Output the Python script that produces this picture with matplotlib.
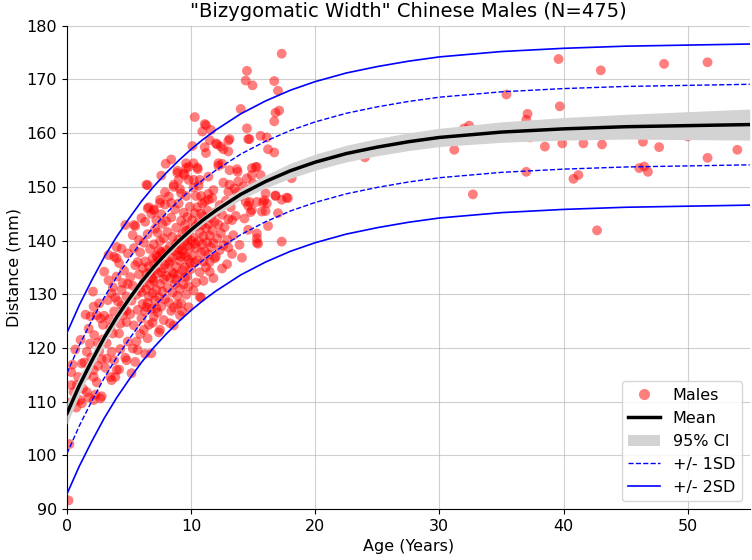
import numpy as np
import matplotlib
matplotlib.use("Agg")
import matplotlib.pyplot as plt
from matplotlib.patches import Patch
from matplotlib.lines import Line2D

# fitted curve (age in years -> mm)
curve_age = [0, 1, 2, 3, 4, 5, 6, 7, 8, 9, 10, 11, 12, 14, 16, 18, 20, 22.5, 25, 27.5, 30, 35, 40, 45, 50, 55]
curve_mean = [107.8, 113.0, 117.6, 121.9, 125.7, 129.1, 132.3, 135.1, 137.6, 139.9, 142.0, 143.9, 145.6,
              148.6, 151.0, 153.0, 154.6, 156.2, 157.4, 158.4, 159.2, 160.2, 160.8, 161.2, 161.4, 161.6]
ci_half = [2.0, 1.7, 1.4, 1.2, 1.0, 0.9, 0.8, 0.75, 0.7, 0.7, 0.7, 0.75, 0.8,
           1.0, 1.2, 1.4, 1.5, 1.55, 1.6, 1.65, 1.7, 1.9, 2.1, 2.3, 2.6, 2.9]
sd = 7.5

# scatter points (age, width mm), grouped by age
infants = [(0.13, 91.6), (0.2, 102.1), (0.35, 115.5), (0.38, 113.1), (0.54, 111.8), (0.65, 110.1), (0.67, 119.7),
           (0.8, 113.1), (1.07, 110.3), (1.2, 117.1), (1.4, 117.3), (1.6, 119.3), (1.6, 111.8), (1.75, 123.6),
           (1.5, 126.2), (1.9, 125.9), (0.9, 114.6), (1.3, 112.4), (0.25, 109.8), (1.1, 121.5), (1.85, 120.8),
           (0.45, 116.9), (1.55, 114.9), (1.95, 118.2), (0.75, 108.9), (1.2, 109.7), (1.75, 110.8)]
age_2_5 = [(2.1, 130.5), (2.15, 127.7), (2.4, 126.1), (2.15, 115.9), (2.15, 114.6), (2.15, 110.3), (2.7, 110.6),
           (2.8, 111.0), (2.3, 111.3), (2.4, 113.6), (2.5, 121.0), (2.6, 119.4), (2.9, 124.3), (2.2, 122.4),
           (2.7, 125.5), (3.0, 126.0), (3.2, 120.9), (3.6, 119.3), (4.0, 115.9), (3.6, 114.0), (3.2, 118.0),
           (2.8, 117.9), (3.35, 132.6), (3.35, 137.3), (3.3, 128.9), (3.5, 123.8), (3.7, 122.7), (3.8, 126.8),
           (3.9, 129.4), (4.0, 133.3), (4.0, 136.7), (4.2, 122.7), (4.4, 130.8), (4.4, 138.5), (4.2, 135.8),
           (3.6, 130.2), (4.7, 118.2), (4.7, 142.9), (4.6, 127.3), (4.8, 124.8), (4.9, 131.9), (4.5, 126.1),
           (4.3, 119.8), (3.1, 116.3), (2.9, 121.6), (3.4, 125.4), (4.1, 128.7), (4.6, 134.4), (4.9, 121.2),
           (3.8, 117.7), (2.6, 128.3), (3.0, 134.2), (4.0, 138.8), (3.8, 137.0), (4.3, 124.5), (4.8, 129.6),
           (4.5, 132.1), (3.5, 114.6), (3.9, 114.6), (4.2, 116.0), (4.9, 137.6), (4.8, 126.9), (2.5, 116.7),
           (3.7, 131.3), (4.4, 127.9), (4.8, 117.7)]
age_5_8 = [(5.2, 115.3), (5.5, 117.4), (5.7, 119.6), (6.5, 121.8), (6.8, 119.0), (7.5, 123.4), (6.3, 118.9),
           (5.3, 141.0), (5.4, 142.9), (5.5, 142.7), (6.5, 150.3), (6.4, 150.4), (6.5, 146.0), (6.6, 146.2),
           (7.0, 145.6), (7.0, 145.8), (6.8, 145.0), (6.3, 143.5), (7.2, 143.8), (7.5, 147.6), (7.5, 147.0),
           (7.9, 149.0), (7.95, 154.3), (7.6, 152.1),
           (5.1, 126.3), (5.2, 128.8), (5.3, 131.6), (5.4, 124.2), (5.5, 135.4), (5.6, 129.9), (5.7, 127.1),
           (5.8, 133.7), (5.9, 122.6), (5.9, 137.8), (6.0, 130.4), (6.0, 125.5), (6.1, 134.9), (6.1, 128.2),
           (6.2, 132.2), (6.2, 139.6), (6.3, 126.8), (6.3, 136.1), (6.4, 130.9), (6.4, 133.8), (6.5, 128.4),
           (6.5, 141.2), (6.6, 124.3), (6.6, 135.2), (6.7, 131.7), (6.7, 138.4), (6.8, 127.3), (6.8, 133.1),
           (6.9, 130.2), (6.9, 136.7), (7.0, 125.8), (7.0, 139.3), (7.0, 132.4), (7.1, 128.9), (7.1, 134.6),
           (7.2, 137.2), (7.2, 130.8), (7.3, 126.6), (7.3, 141.5), (7.3, 133.9), (7.4, 129.4), (7.4, 136.3),
           (7.5, 131.9), (7.5, 139.9), (7.6, 127.7), (7.6, 134.1), (7.7, 130.5), (7.7, 143.1), (7.7, 137.6),
           (7.8, 125.2), (7.8, 132.8), (7.8, 140.4), (7.9, 135.5), (7.9, 129.1), (8.0, 138.2), (8.0, 133.4),
           (5.4, 138.6), (5.6, 121.2), (5.8, 140.1), (6.0, 144.2), (6.2, 123.4), (6.9, 124.7), (7.1, 142.2),
           (7.4, 122.9), (5.1, 133.2), (5.3, 119.9), (5.7, 136.0), (6.6, 129.6), (7.2, 127.4), (7.6, 144.9),
           (5.9, 131.1), (6.4, 127.6), (7.9, 146.7),
           (6.7, 134.0), (7.0, 135.6), (7.3, 136.9), (7.6, 137.9), (7.8, 134.8), (6.9, 132.9), (7.4, 138.2)]
age_8_10 = [(8.3, 124.6), (9.1, 126.1), (8.9, 128.1), (8.4, 155.1), (8.9, 153.0), (8.9, 152.6), (9.0, 151.3),
            (8.6, 150.4), (8.6, 150.0), (9.2, 148.8), (9.6, 148.3), (9.6, 154.4), (9.5, 152.2), (9.6, 153.5),
            (9.8, 151.3), (9.8, 153.7), (9.4, 152.5),
            (8.1, 131.2), (8.1, 141.6), (8.2, 128.5), (8.2, 135.7), (8.3, 138.9), (8.3, 133.0), (8.4, 126.9),
            (8.4, 144.3), (8.5, 130.3), (8.5, 136.8), (8.5, 140.7), (8.6, 133.8), (8.6, 127.5), (8.7, 138.0),
            (8.7, 145.8), (8.7, 131.9), (8.8, 135.1), (8.8, 142.4), (8.9, 129.7), (8.9, 137.3), (9.0, 133.6),
            (9.0, 140.2), (9.0, 146.9), (9.1, 131.0), (9.1, 136.2), (9.2, 139.1), (9.2, 143.7), (9.2, 128.3),
            (9.3, 134.5), (9.3, 141.3), (9.4, 137.6), (9.4, 131.8), (9.4, 145.2), (9.5, 135.0), (9.5, 139.8),
            (9.5, 142.9), (9.6, 129.9), (9.6, 137.1), (9.7, 133.3), (9.7, 140.6), (9.7, 144.4), (9.8, 136.4),
            (9.8, 131.5), (9.9, 138.8), (9.9, 142.1), (9.9, 146.3), (10.0, 134.7), (10.0, 140.0), (8.2, 148.2),
            (8.6, 124.2), (9.1, 149.6), (9.3, 126.8), (8.4, 147.0), (9.8, 127.6), (8.8, 132.7), (9.5, 133.2),
            (8.0, 143.6), (9.0, 138.4), (9.6, 141.8), (8.5, 134.1), (9.2, 137.0), (9.9, 135.8),
            (8.3, 136.1), (8.8, 139.4), (9.3, 138.1), (9.7, 139.0)]
age_10_13 = [(10.3, 163.0), (11.1, 161.7), (11.2, 161.5), (11.6, 160.6), (10.9, 160.3), (11.5, 158.7),
             (10.1, 157.6), (11.1, 157.4), (12.4, 157.5), (12.6, 157.0), (12.0, 158.1), (11.2, 156.3),
             (12.1, 157.9), (13.0, 156.6), (12.5, 154.3), (12.2, 153.9), (10.2, 154.4), (10.5, 153.6),
             (10.55, 153.3), (10.2, 151.3), (10.7, 151.3), (11.4, 151.9), (12.2, 154.4), (10.2, 149.9),
             (10.4, 148.3), (10.8, 148.3), (11.4, 148.7), (11.4, 147.6), (10.7, 129.5), (10.2, 130.7),
             (10.8, 129.4), (10.4, 132.2), (11.0, 132.5), (11.8, 133.0), (12.5, 134.8),
             (10.1, 137.2), (10.1, 143.8), (10.2, 140.5), (10.3, 135.9), (10.3, 145.1), (10.4, 138.6),
             (10.4, 142.7), (10.5, 136.3), (10.5, 146.2), (10.6, 139.9), (10.6, 143.4), (10.7, 134.1),
             (10.7, 141.6), (10.8, 137.8), (10.8, 145.0), (10.9, 139.3), (10.9, 142.9), (11.0, 136.1),
             (11.0, 144.5), (11.0, 140.8), (11.1, 138.0), (11.1, 147.3), (11.2, 135.0), (11.2, 142.3),
             (11.3, 139.7), (11.3, 145.6), (11.4, 137.4), (11.4, 143.1), (11.5, 140.9), (11.5, 136.0),
             (11.6, 144.2), (11.6, 138.8), (11.7, 141.9), (11.7, 147.9), (11.8, 139.5), (11.9, 143.5),
             (12.0, 137.0), (12.0, 145.3), (12.1, 140.4), (12.2, 143.0), (12.3, 138.2), (12.3, 146.6),
             (12.4, 141.4), (12.5, 144.8), (12.6, 139.1), (12.7, 142.5), (12.8, 147.4), (12.9, 140.1),
             (13.0, 144.0), (13.0, 138.7), (10.6, 150.2), (11.8, 149.4), (12.6, 150.8), (10.3, 139.4),
             (11.5, 134.2), (12.9, 135.6), (11.9, 136.7), (10.9, 146.9)]
age_13_18 = [(13.1, 158.9), (13.0, 158.6), (13.1, 153.1), (13.7, 153.3), (13.75, 152.8), (14.0, 164.5),
             (14.5, 160.9), (14.6, 158.9), (14.7, 158.9), (15.6, 159.5), (16.1, 159.2), (16.2, 157.0),
             (16.7, 156.4), (15.2, 153.7), (14.9, 152.2), (15.6, 152.2), (14.9, 153.5), (15.3, 153.7),
             (14.5, 151.6), (13.1, 150.4), (13.0, 149.1), (13.7, 148.9), (14.4, 147.2), (14.6, 146.5),
             (14.8, 145.3), (15.3, 147.2), (15.8, 147.1), (16.0, 145.5), (16.2, 142.7), (17.0, 145.1),
             (17.3, 139.8), (17.7, 148.0), (18.1, 151.6), (17.8, 152.4), (16.8, 148.4), (16.0, 148.8),
             (14.6, 142.0), (15.3, 140.4), (15.4, 139.4), (14.1, 136.8), (15.3, 139.6), (15.3, 141.3),
             (15.7, 145.4), (16.1, 146.9), (16.8, 148.3), (17.3, 147.6), (17.8, 147.9), (15.9, 147.5),
             (14.9, 145.7), (14.7, 147.2), (13.3, 143.8), (14.5, 171.6), (14.4, 169.8), (14.95, 168.9),
             (16.7, 169.7), (17.0, 167.9), (17.1, 164.2), (16.8, 163.8), (16.7, 162.2), (17.3, 174.8),
             (13.2, 146.2), (13.4, 141.0), (13.5, 149.7), (13.6, 144.6), (13.8, 151.0), (13.9, 139.2),
             (14.2, 150.1), (14.3, 144.1), (16.5, 151.3), (15.0, 150.6), (13.3, 137.5), (14.0, 148.3)]
adults = [(24.0, 155.5), (31.2, 156.9), (31.5, 159.2), (32.0, 160.9), (32.4, 161.4), (32.7, 148.6),
          (34.9, 160.0), (35.4, 160.2), (35.4, 167.2), (37.0, 162.5), (37.1, 163.6), (37.0, 152.8),
          (37.3, 159.2), (38.5, 157.5), (39.6, 173.8), (39.7, 165.0), (39.9, 158.1), (40.8, 151.5),
          (41.2, 152.2), (41.6, 158.1), (42.7, 141.9), (43.0, 171.7), (43.0, 160.5), (43.1, 157.9),
          (46.1, 153.5), (46.5, 153.8), (46.4, 158.4), (46.8, 152.8), (47.7, 157.4), (48.1, 172.9),
          (50.0, 159.4), (51.6, 173.2), (51.6, 155.4), (54.0, 156.9)]

points = infants + age_2_5 + age_5_8 + age_8_10 + age_10_13 + age_13_18 + adults
ages = np.array([p[0] for p in points])
widths = np.array([p[1] for p in points])
x = np.array(curve_age)
m = np.array(curve_mean)
h = np.array(ci_half)

fig = plt.figure(figsize=(7.52, 5.6), dpi=100)
ax = fig.add_axes([0.089, 0.091, 0.908, 0.863])

ax.scatter(ages, widths, s=50, color='red', alpha=0.5, edgecolors='none', zorder=2)
ax.fill_between(x, m - h, m + h, color='lightgray', lw=0, zorder=3)
ax.plot(x, m, color='black', lw=2.5, zorder=4)
ax.plot(x, m + sd, 'b--', lw=1, zorder=4)
ax.plot(x, m - sd, 'b--', lw=1, zorder=4)
ax.plot(x, m + 2 * sd, 'b-', lw=1.2, zorder=4)
ax.plot(x, m - 2 * sd, 'b-', lw=1.2, zorder=4)

ax.set_xlim(0, 55)
ax.set_ylim(90, 180)
ax.grid(True, color='#b0b0b0', lw=0.8, alpha=0.6)
ax.set_axisbelow(True)
ax.spines['top'].set_visible(False)
ax.spines['right'].set_visible(False)
ax.tick_params(labelsize=11.5)
ax.set_xlabel('Age (Years)', fontsize=11.5)
ax.set_ylabel('Distance (mm)', fontsize=11.5)
ax.set_title('"Bizygomatic Width" Chinese Males (N=475)', fontsize=14)

handles = [Line2D([], [], marker='o', ls='none', color='red', alpha=0.5, markeredgecolor='none', markersize=8),
           Line2D([], [], color='black', lw=2.5),
           Patch(facecolor='lightgray', edgecolor='none'),
           Line2D([], [], color='blue', ls='--', lw=1),
           Line2D([], [], color='blue', lw=1.2)]
ax.legend(handles, ['Males', 'Mean', '95% CI', '+/- 1SD', '+/- 2SD'], loc='lower right', fontsize=11.5)

fig.savefig('out.png', dpi=100)
